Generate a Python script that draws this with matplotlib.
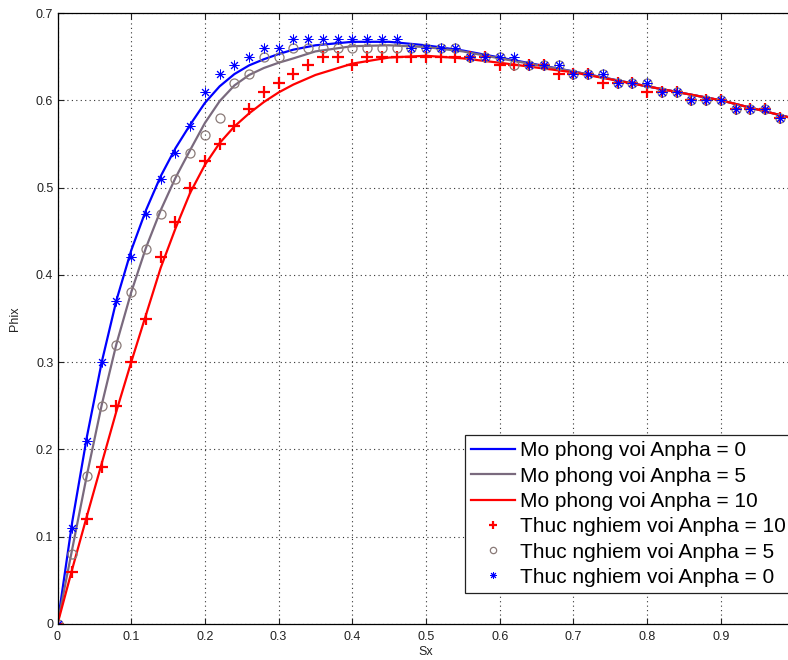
import numpy as np
import matplotlib
matplotlib.use("Agg")
import matplotlib.pyplot as plt

plt.rcParams['font.family'] = ['Liberation Sans', 'DejaVu Sans']

# simulation curves (Mo phong)
x_line = [0, 0.02, 0.04, 0.06, 0.08, 0.10, 0.12, 0.14, 0.16, 0.18, 0.20,
          0.22, 0.24, 0.26, 0.28, 0.30, 0.32, 0.35, 0.40, 0.45, 0.50, 0.55,
          0.60, 0.70, 0.80, 0.90, 0.99]
sim_a0 = [0, 0.117, 0.215, 0.300, 0.371, 0.428, 0.474, 0.513, 0.545, 0.572,
          0.597, 0.616, 0.630, 0.640, 0.647, 0.653, 0.658, 0.663, 0.667,
          0.667, 0.663, 0.657, 0.649, 0.633, 0.616, 0.600, 0.581]
sim_a5 = [0, 0.086, 0.171, 0.251, 0.321, 0.380, 0.431, 0.474, 0.511, 0.543,
          0.574, 0.599, 0.617, 0.629, 0.637, 0.643, 0.648, 0.656, 0.662,
          0.663, 0.661, 0.656, 0.648, 0.633, 0.616, 0.600, 0.581]
sim_a10 = [0, 0.063, 0.124, 0.184, 0.244, 0.300, 0.354, 0.408, 0.453, 0.494,
           0.526, 0.551, 0.570, 0.585, 0.598, 0.609, 0.618, 0.629, 0.642,
           0.649, 0.651, 0.648, 0.643, 0.632, 0.616, 0.600, 0.581]

# measured points (Thuc nghiem)
x_pts = [0, 0.02, 0.04, 0.06, 0.08, 0.10, 0.12, 0.14, 0.16, 0.18, 0.20,
         0.22, 0.24, 0.26, 0.28, 0.30, 0.32, 0.34, 0.36, 0.38, 0.40, 0.42,
         0.44, 0.46, 0.48, 0.50, 0.52, 0.54, 0.56, 0.58, 0.60, 0.62, 0.64,
         0.66, 0.68, 0.70, 0.72, 0.74, 0.76, 0.78, 0.80, 0.82, 0.84, 0.86,
         0.88, 0.90, 0.92, 0.94, 0.96, 0.98]
exp_a10 = [0, 0.06, 0.12, 0.18, 0.25, 0.30, 0.35, 0.42, 0.46, 0.50, 0.53,
           0.55, 0.57, 0.59, 0.61, 0.62, 0.63, 0.64, 0.65, 0.65, 0.64, 0.65,
           0.65, 0.65, 0.65, 0.65, 0.65, 0.65, 0.65, 0.65, 0.64, 0.64, 0.64,
           0.64, 0.63, 0.63, 0.63, 0.62, 0.62, 0.62, 0.61, 0.61, 0.61, 0.60,
           0.60, 0.60, 0.59, 0.59, 0.59, 0.58]
exp_a5 = [0, 0.08, 0.17, 0.25, 0.32, 0.38, 0.43, 0.47, 0.51, 0.54, 0.56,
          0.58, 0.62, 0.63, 0.65, 0.65, 0.66, 0.66, 0.66, 0.66, 0.66, 0.66,
          0.66, 0.66, 0.66, 0.66, 0.66, 0.66, 0.65, 0.65, 0.65, 0.64, 0.64,
          0.64, 0.64, 0.63, 0.63, 0.63, 0.62, 0.62, 0.62, 0.61, 0.61, 0.60,
          0.60, 0.60, 0.59, 0.59, 0.59, 0.58]
exp_a0 = [0, 0.11, 0.21, 0.30, 0.37, 0.42, 0.47, 0.51, 0.54, 0.57, 0.61,
          0.63, 0.64, 0.65, 0.66, 0.66, 0.67, 0.67, 0.67, 0.67, 0.67, 0.67,
          0.67, 0.67, 0.66, 0.66, 0.66, 0.66, 0.65, 0.65, 0.65, 0.65, 0.64,
          0.64, 0.64, 0.63, 0.63, 0.63, 0.62, 0.62, 0.62, 0.61, 0.61, 0.60,
          0.60, 0.60, 0.59, 0.59, 0.59, 0.58]

x_ticks = [0, 0.1, 0.2, 0.3, 0.4, 0.5, 0.6, 0.7, 0.8, 0.9]
x_tick_labels = ['0', '0.1', '0.2', '0.3', '0.4', '0.5', '0.6', '0.7', '0.8', '0.9']
y_ticks = [0, 0.1, 0.2, 0.3, 0.4, 0.5, 0.6, 0.7]
y_tick_labels = ['0', '0.1', '0.2', '0.3', '0.4', '0.5', '0.6', '0.7']

fig = plt.figure(figsize=(7.88, 6.6), dpi=100)
ax = fig.add_axes([57.5 / 788, 36 / 660, 737 / 788, 611 / 660])

ax.plot(x_line, sim_a0, color='#0000ff', lw=1.6, label='Mo phong voi Anpha = 0')
ax.plot(x_line, sim_a5, color='#7a6a7e', lw=1.6, label='Mo phong voi Anpha = 5')
ax.plot(x_line, sim_a10, color='#ff0000', lw=1.6, label='Mo phong voi Anpha = 10')
ax.plot(x_pts, exp_a10, '+', color='#ff0000', ms=8, mew=1.6,
        label='Thuc nghiem voi Anpha = 10')
ax.plot(x_pts, exp_a5, 'o', mfc='none', mec='#8a7a78', ms=6.5, mew=0.9,
        label='Thuc nghiem voi Anpha = 5')
ax.plot(x_pts, exp_a0, linestyle='none', marker=(8, 2, 0), color='#0000ff',
        ms=7, mew=0.7, label='Thuc nghiem voi Anpha = 0')

ax.set_xlim(0, 1)
ax.set_ylim(0, 0.7)
ax.set_xticks(x_ticks)
ax.set_xticklabels(x_tick_labels)
ax.set_yticks(y_ticks)
ax.set_yticklabels(y_tick_labels)
ax.tick_params(direction='in', length=4, width=0.8, top=True, right=True,
               labelsize=9, colors='#222222')
ax.tick_params(axis='x', pad=5)
ax.tick_params(axis='y', pad=3)
ax.grid(True, color='#333333', linestyle=(0, (1, 3)), lw=0.8)
for s in ax.spines.values():
    s.set_linewidth(0.9)

ax.set_xlabel('Sx', fontsize=9, labelpad=2, color='#222222')
ax.set_ylabel('Phix', fontsize=9, labelpad=11, color='#222222')

leg = ax.legend(loc='lower left', bbox_to_anchor=((465 - 57.5) / 737, 31 / 611),
                borderaxespad=0, fontsize=15, fancybox=False, framealpha=1,
                edgecolor='#222222', handlelength=2.1, handletextpad=0.25,
                labelspacing=0.3, borderpad=0.3, markerscale=0.7)
leg.get_frame().set_linewidth(0.9)

fig.savefig('out.png', dpi=100)
